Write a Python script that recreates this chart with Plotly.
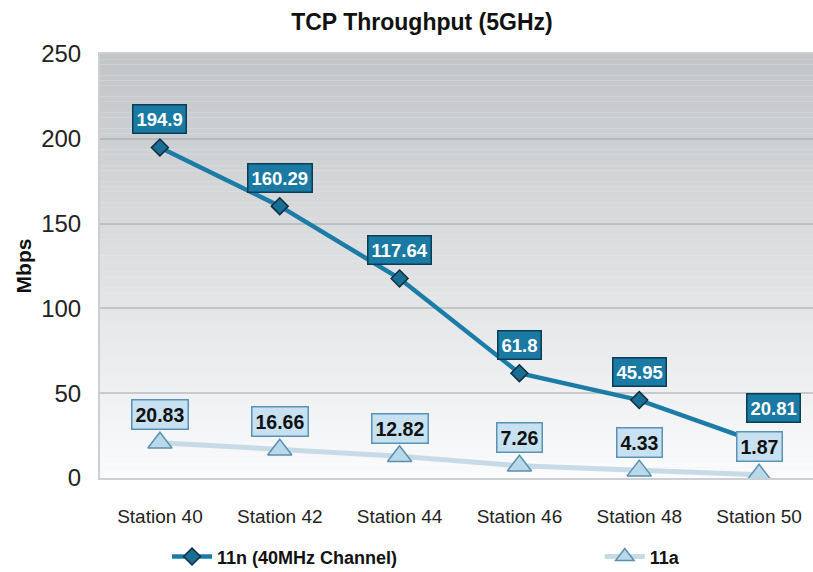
import plotly.graph_objects as go

stations = ["Station 40", "Station 42", "Station 44", "Station 46", "Station 48", "Station 50"]
tput_11n = [194.9, 160.29, 117.64, 61.8, 45.95, 20.81]
tput_11a = [20.83, 16.66, 12.82, 7.26, 4.33, 1.87]
name_11n = "11n (40MHz Channel)"
name_11a = "11a"
title_text = "TCP Throughput (5GHz)"
y_title = "Mbps"
y_ticks = [0, 50, 100, 150, 200, 250]

FONT = "Liberation Sans, Arial, Helvetica, sans-serif"

fig = go.Figure()

fig.add_trace(go.Scatter(
    x=stations, y=tput_11a, name="<b>%s</b>" % name_11a, mode="lines+markers",
    line=dict(color="#c6dbe6", width=5),
    marker=dict(symbol="triangle-up", size=21, color="#b9d8ea",
                line=dict(color="#5b90b0", width=1.5)),
    legend="legend2", hoverinfo="x+y",
))
fig.add_trace(go.Scatter(
    x=stations, y=tput_11n, name="<b>%s</b>" % name_11n, mode="lines+markers",
    line=dict(color="#1b7ca8", width=4.5),
    marker=dict(symbol="diamond", size=13, color="#1a6e93",
                line=dict(color="#0c2e40", width=1.5)),
    legend="legend", hoverinfo="x+y",
))

# gradient background in the plot area
shapes = []
N = 80
top = (194, 197, 200)
bot = (250, 251, 252)
for i in range(N):
    t = i / (N - 1)
    c = tuple(int(round(bot[k] + (top[k] - bot[k]) * t)) for k in range(3))
    shapes.append(dict(type="rect", xref="x domain", yref="y domain",
                       x0=0, x1=1, y0=i / N, y1=(i + 1) / N,
                       fillcolor="rgb(%d,%d,%d)" % c, line=dict(width=0),
                       layer="below"))

annotations = []
for i, (s, v) in enumerate(zip(stations, tput_11n)):
    xs = 14 if i == len(stations) - 1 else 0
    ys = 35 if i == len(stations) - 1 else 28
    annotations.append(dict(
        x=s, y=v, xref="x", yref="y", text="<b>%s</b>" % v, showarrow=False,
        xshift=xs, yshift=ys,
        font=dict(family=FONT, size=18.5, color="white"),
        bgcolor="#1a7aa3", bordercolor="#0d3c55", borderwidth=1.5, borderpad=3,
    ))
for s, v in zip(stations, tput_11a):
    annotations.append(dict(
        x=s, y=v, xref="x", yref="y", text="<b>%s</b>" % v, showarrow=False,
        yshift=28,
        font=dict(family=FONT, size=19.5, color="#111111"),
        bgcolor="#c7e1f1", bordercolor="#5a92b7", borderwidth=1.5, borderpad=3,
    ))

legend_common = dict(orientation="h", xanchor="left", y=-0.186, yanchor="middle",
                     itemwidth=40,
                     font=dict(family=FONT, size=18, color="#111111"),
                     bgcolor="rgba(0,0,0,0)")

fig.update_layout(
    width=813, height=572,
    margin=dict(l=100, r=0, t=54, b=94, autoexpand=False),
    paper_bgcolor="white", plot_bgcolor="#f0f1f2",
    font=dict(family=FONT, color="#111111"),
    title=dict(text="<b>%s</b>" % title_text, x=0.519, xanchor="center",
               xref="container", yref="container",
               y=1 - 22 / 572, yanchor="middle",
               font=dict(family=FONT, size=23, color="#111111")),
    shapes=shapes,
    annotations=annotations,
    showlegend=True,
    legend=dict(x=0.094, **legend_common),
    legend2=dict(x=0.701, **legend_common),
    hovermode="closest",
)

fig.update_xaxes(type="category", range=[-0.5, 5.45], showgrid=False,
                 automargin=False,
                 showline=True, mirror=True, linecolor="#cdd0d2", linewidth=2,
                 ticks="", ticklabelstandoff=20,
                 tickfont=dict(family=FONT, size=19, color="#222222"))
fig.update_yaxes(range=[0, 250], tickvals=y_ticks, showgrid=True,
                 automargin=False,
                 gridcolor="rgba(150,155,160,0.45)", gridwidth=1.5,
                 zeroline=False,
                 showline=True, mirror=True, linecolor="#cdd0d2", linewidth=2,
                 ticks="", ticklabelstandoff=12,
                 tickfont=dict(family=FONT, size=24, color="#222222"),
                 title=dict(text="<b>%s</b>" % y_title, standoff=4,
                            font=dict(family=FONT, size=21, color="#111111")))

fig.write_html("out.html", config={"displayModeBar": False},
               post_script="document.body.style.margin='0';document.body.style.padding='0';")
